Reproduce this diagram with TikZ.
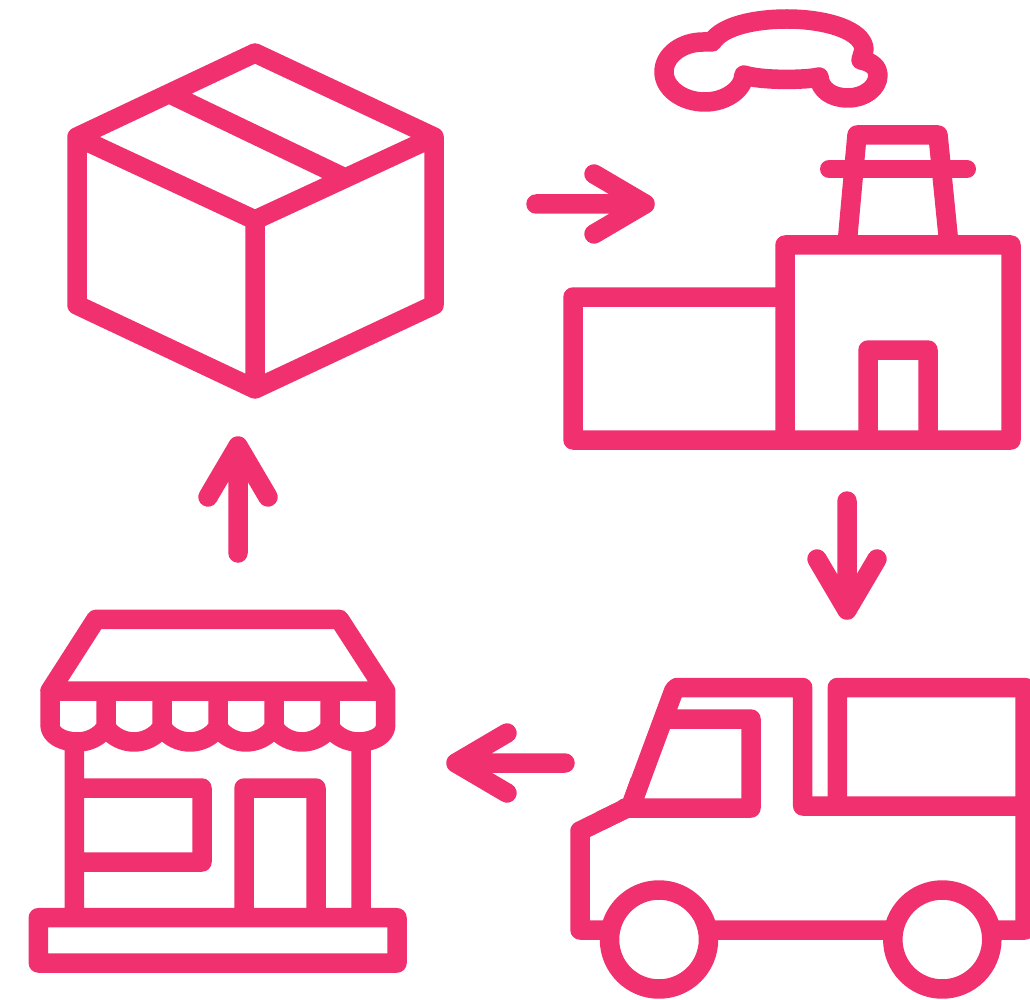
\documentclass[tikz,border=0pt]{standalone}
\definecolor{iconpink}{HTML}{F0306F}
\tikzset{
  icon/.style={draw=iconpink,line width=19.5pt,line join=round,line cap=round,fill=none},
  thinbar/.style={icon,line width=18pt},
  wheel/.style={icon,fill=white}
}
\begin{document}
\begin{tikzpicture}[x=1pt,y=-1pt]
\clip (0,0) rectangle (1030,1000);
% box
\draw[icon] (255,53) -- (434,137) -- (434,305) -- (255,389) -- (77,305) -- (77,137) -- cycle
  (77,137) -- (255,220) -- (434,137)
  (255,220) -- (255,389)
  (172,95) -- (345,178);
% arrows
\draw[icon] (536,204) -- (645,204) (594,174) -- (645,204) -- (594,234);
\draw[icon] (847,501) -- (847,610) (817,559) -- (847,610) -- (877,559);
\draw[icon] (565,763) -- (456,763) (507,733) -- (456,763) -- (507,793);
\draw[icon] (238,553) -- (238,446) (208,497) -- (238,446) -- (268,497);
% cloud
\draw[icon] (712,42) .. controls (722,26) and (755,19) .. (787,19)
  .. controls (825,19) and (864,30) .. (864,50) -- (861,60)
  .. controls (872,62) and (878,68) .. (878,75)
  .. controls (878,88) and (864,98) .. (848,98)
  .. controls (832,98) and (820,90) .. (819,77)
  .. controls (808,80) and (762,81) .. (744,75)
  .. controls (743,90) and (725,102) .. (705,102)
  .. controls (682,102) and (664,88) .. (664,72)
  .. controls (664,55) and (682,42) .. (703,42) -- cycle;
% factory
\draw[icon] (785,297) -- (573,297) -- (573,440) -- (1011,440) -- (1011,245) -- (785,245) -- (785,440)
  (868,440) -- (868,350) -- (928,350) -- (928,440)
  (847,245) -- (857,135) -- (938,135) -- (949,245);
\draw[thinbar] (829,169) -- (967,169);
% truck
\draw[icon] (659,930) -- (580,930) -- (580,831) -- (631,806) -- (664,717) -- (674,690) -- (677,687.5)
  -- (802.7,687.5) -- (802.7,806) -- (1025,806)
  (625,808) -- (751,808) -- (751,719) -- (664,719)
  (837.3,806) -- (837.3,687.5) -- (1025,687.5) -- (1025,930) -- (659,930);
\draw[icon,line join=miter,line cap=butt] (600,821) -- (631,806) -- (640,781);
\draw[wheel] (659,939.5) circle[radius=49.5];
\draw[wheel] (942.3,939.5) circle[radius=49.5];
% store
\draw[icon] (50,691) -- (96,619.3) -- (339.3,619.3) -- (385.7,691) -- cycle
  (50,691) -- (50,725) .. controls (50,735) and (62,742) .. (78,742)
  .. controls (88,742) and (100,737) .. (106,727)
  .. controls (112,737) and (124,742) .. (134,742)
  .. controls (144,742) and (156,737) .. (162,727)
  .. controls (168,737) and (180,742) .. (190,742)
  .. controls (200,742) and (212,737) .. (218,727)
  .. controls (224,737) and (236,742) .. (246,742)
  .. controls (256,742) and (268,737) .. (274,727)
  .. controls (280,737) and (292,742) .. (302,742)
  .. controls (312,742) and (324,737) .. (330,727)
  .. controls (336,737) and (348,742) .. (358,742)
  .. controls (374,742) and (385.7,735) .. (385.7,725) -- (385.7,691)
  (106,691) -- (106,727) (162,691) -- (162,727) (218,691) -- (218,727)
  (274,691) -- (274,727) (330,691) -- (330,727)
  (74.3,742) -- (74.3,917.7)
  (361,742) -- (361,917.7)
  (74.3,788) -- (202,788) -- (202,862) -- (74.3,862)
  (244,917.7) -- (244,788) -- (316,788) -- (316,917.7)
  (38.3,917.7) rectangle (397,963);
\end{tikzpicture}
\end{document}
